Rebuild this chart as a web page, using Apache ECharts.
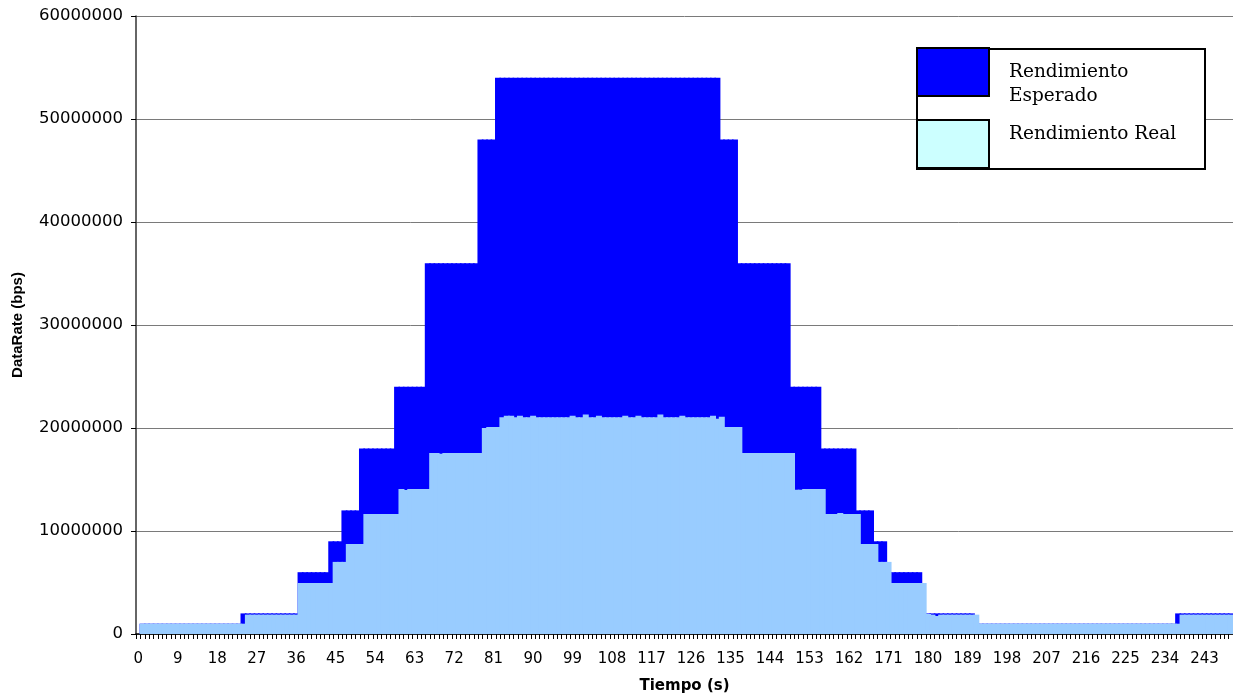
<!DOCTYPE html>
<html><head><meta charset="utf-8">
<script src="https://cdn.jsdelivr.net/npm/echarts@6/dist/echarts.min.js"></script>
<style>html,body{margin:0;padding:0;background:#fff}#c{width:1233px;height:694px}</style>
</head><body><div id="c"></div>
<script>
const categories = [
0,1,2,3,4,5,6,7,8,9,10,11,12,13,14,15,16,17,18,19,20,21,22,23,24,25,26,27,28,29,
30,31,32,33,34,35,36,37,38,39,40,41,42,43,44,45,46,47,48,49,50,51,52,53,54,55,56,57,58,59,
60,61,62,63,64,65,66,67,68,69,70,71,72,73,74,75,76,77,78,79,80,81,82,83,84,85,86,87,88,89,
90,91,92,93,94,95,96,97,98,99,100,101,102,103,104,105,106,107,108,109,110,111,112,113,114,115,116,117,118,119,
120,121,122,123,124,125,126,127,128,129,130,131,132,133,134,135,136,137,138,139,140,141,142,143,144,145,146,147,148,149,
150,151,152,153,154,155,156,157,158,159,160,161,162,163,164,165,166,167,168,169,170,171,172,173,174,175,176,177,178,179,
180,181,182,183,184,185,186,187,188,189,190,191,192,193,194,195,196,197,198,199,200,201,202,203,204,205,206,207,208,209,
210,211,212,213,214,215,216,217,218,219,220,221,222,223,224,225,226,227,228,229,230,231,232,233,234,235,236,237,238,239,
240,241,242,243,244,245,246,247,248,249
].map(String);

// Rendimiento Esperado (bps), one value per second
const expected = [
0,
1000000,1000000,1000000,1000000,1000000,1000000,1000000,1000000,1000000,1000000,1000000,1000000,1000000,1000000,1000000,1000000,1000000,1000000,1000000,1000000,1000000,1000000,1000000,
2000000,2000000,2000000,2000000,2000000,2000000,2000000,2000000,2000000,2000000,2000000,2000000,2000000,
6000000,6000000,6000000,6000000,6000000,6000000,6000000,
9000000,9000000,9000000,
12000000,12000000,12000000,12000000,
18000000,18000000,18000000,18000000,18000000,18000000,18000000,18000000,
24000000,24000000,24000000,24000000,24000000,24000000,24000000,
36000000,36000000,36000000,36000000,36000000,36000000,36000000,36000000,36000000,36000000,36000000,36000000,
48000000,48000000,48000000,48000000,
54000000,54000000,54000000,54000000,54000000,54000000,54000000,54000000,54000000,54000000,
54000000,54000000,54000000,54000000,54000000,54000000,54000000,54000000,54000000,54000000,
54000000,54000000,54000000,54000000,54000000,54000000,54000000,54000000,54000000,54000000,
54000000,54000000,54000000,54000000,54000000,54000000,54000000,54000000,54000000,54000000,
54000000,54000000,54000000,54000000,54000000,54000000,54000000,54000000,54000000,54000000,
54000000,
48000000,48000000,48000000,48000000,
36000000,36000000,36000000,36000000,36000000,36000000,36000000,36000000,36000000,36000000,36000000,36000000,
24000000,24000000,24000000,24000000,24000000,24000000,24000000,
18000000,18000000,18000000,18000000,18000000,18000000,18000000,18000000,
12000000,12000000,12000000,12000000,
9000000,9000000,9000000,
6000000,6000000,6000000,6000000,6000000,6000000,6000000,6000000,
2000000,2000000,2000000,2000000,2000000,2000000,2000000,2000000,2000000,2000000,2000000,2000000,
1000000,1000000,1000000,1000000,1000000,1000000,1000000,1000000,1000000,1000000,
1000000,1000000,1000000,1000000,1000000,1000000,1000000,1000000,1000000,1000000,
1000000,1000000,1000000,1000000,1000000,1000000,1000000,1000000,1000000,1000000,
1000000,1000000,1000000,1000000,1000000,1000000,1000000,1000000,1000000,1000000,
1000000,1000000,1000000,1000000,1000000,1000000,
2000000,2000000,2000000,2000000,2000000,2000000,2000000,2000000,2000000,2000000,2000000,2000000,2000000
];

// Rendimiento Real (bps), one value per second
const real = [
0,
1000000,1000000,1000000,1000000,1000000,1000000,1000000,1000000,1000000,1000000,1000000,1000000,
1000000,1000000,1000000,1000000,1000000,1000000,1000000,1000000,1000000,1000000,1000000,1000000,
1880000,1880000,1880000,1880000,1880000,1880000,1880000,1880000,1880000,1880000,1880000,1880000,
4950000,4950000,4950000,4950000,4950000,4950000,4950000,4950000,
7000000,7000000,7000000,
8740000,8740000,8740000,8740000,
11650000,11650000,11650000,11650000,11650000,11650000,11650000,11650000,
14080000,13980000,14080000,14080000,14080000,14080000,14080000,
17570000,17570000,17500000,17570000,17570000,17570000,17570000,17570000,17570000,17570000,17570000,17570000,
20000000,20100000,20100000,20100000,
21050000,21200000,21200000,21050000,21200000,21050000,21050000,21200000,21050000,21050000,
21050000,21050000,21050000,21050000,21050000,21050000,21200000,21050000,21050000,21300000,
21050000,21050000,21200000,21050000,21050000,21050000,21050000,21050000,21200000,21050000,
21050000,21200000,21050000,21050000,21050000,21050000,21300000,21050000,21050000,21050000,
21050000,21200000,21050000,21050000,21050000,21050000,21050000,21050000,21200000,20900000,
21100000,
20100000,20100000,20100000,20100000,
17570000,17570000,17570000,17570000,17570000,17570000,17570000,17570000,17570000,17570000,17570000,17570000,
14000000,14000000,14080000,14080000,14080000,14080000,14080000,
11650000,11650000,11650000,11750000,11650000,11650000,11650000,11650000,
8740000,8740000,8740000,8740000,
7000000,7000000,7000000,
4950000,4950000,4950000,4950000,4950000,4950000,4950000,4950000,
1950000,1880000,1750000,1880000,1880000,1880000,1880000,1880000,1880000,1880000,1880000,1880000,
1000000,1000000,1000000,1000000,1000000,1000000,1000000,1000000,1000000,1000000,
1000000,1000000,1000000,1000000,1000000,1000000,1000000,1000000,1000000,1000000,
1000000,1000000,1000000,1000000,1000000,1000000,1000000,1000000,1000000,1000000,
1000000,1000000,1000000,1000000,1000000,1000000,1000000,1000000,1000000,1000000,
1000000,1000000,1000000,1000000,1000000,1000000,
1880000,1880000,1880000,1880000,1880000,1880000,1880000,1880000,1880000,1880000,1880000,1880000
];

const seriesNames = ['Rendimiento Esperado', 'Rendimiento Real'];
const yMin = 0, yMax = 60000000, yStep = 10000000;

const chart = echarts.init(document.getElementById('c'), null, {renderer: 'canvas'});
chart.setOption({
  animation: false,
  backgroundColor: '#ffffff',
  grid: {left: 136, right: 0, top: 16, bottom: 60, containLabel: false, outerBoundsMode: 'none'},
  graphic: [{
    type: 'rect', left: 916, top: 48, z: 5, silent: true,
    shape: {width: 288, height: 120},
    style: {fill: '#fff', stroke: '#000', lineWidth: 2}
  }],
  legend: {
    orient: 'vertical', left: 916, top: 36, z: 10,
    itemWidth: 72, itemHeight: 48, itemGap: 11,
    padding: 0, borderWidth: 0,
    selectedMode: false,
    textStyle: {fontFamily: 'DejaVu Serif', fontSize: 18.5, color: '#000', padding: [0, 0, 0, 15]},
    formatter: function (n) { return n === seriesNames[0] ? '\nRendimiento\nEsperado' : n + '\n'; },
    data: [
      {name: seriesNames[0], icon: 'rect', itemStyle: {color: '#0000FF', borderColor: '#000', borderWidth: 2},
       textStyle: {lineHeight: 24}},
      {name: seriesNames[1], icon: 'rect', itemStyle: {color: '#CCFFFF', borderColor: '#000', borderWidth: 2},
       textStyle: {lineHeight: 20}}
    ]
  },
  xAxis: {
    type: 'category', data: categories, boundaryGap: true,
    name: 'Tiempo (s)', nameLocation: 'middle', nameGap: 45,
    nameTextStyle: {fontFamily: 'DejaVu Sans', fontWeight: 'bold', fontSize: 15, color: '#000'},
    axisLine: {lineStyle: {color: '#000', width: 1.5}},
    axisTick: {show: true, interval: 0, length: 5, lineStyle: {color: '#000', width: 1}},
    axisLabel: {interval: 8, margin: 18, fontFamily: 'DejaVu Sans', fontSize: 15, color: '#000'},
    splitLine: {show: false}
  },
  yAxis: {
    type: 'value', min: yMin, max: yMax, interval: yStep,
    name: 'DataRate (bps)', nameLocation: 'middle', nameGap: 111, nameRotate: 90,
    nameTextStyle: {fontFamily: 'Liberation Sans', fontWeight: 'bold', fontSize: 15, color: '#000'},
    axisLine: {show: true, lineStyle: {color: '#333', width: 1.5}},
    axisTick: {show: true, length: 5, lineStyle: {color: '#000'}},
    axisLabel: {margin: 13, fontFamily: 'DejaVu Sans', fontSize: 16.5, color: '#000',
      formatter: function (v) { return String(v); }},
    splitLine: {show: true, lineStyle: {color: '#7a7a7a', width: 1}}
  },
  series: [
    {name: seriesNames[0], type: 'bar', data: expected, barGap: '-100%', barWidth: 6,
     itemStyle: {color: '#0000FF'}},
    {name: seriesNames[1], type: 'bar', data: real, barGap: '-100%', barWidth: 6,
     itemStyle: {color: '#99CCFF'}}
  ]
});
</script></body></html>
